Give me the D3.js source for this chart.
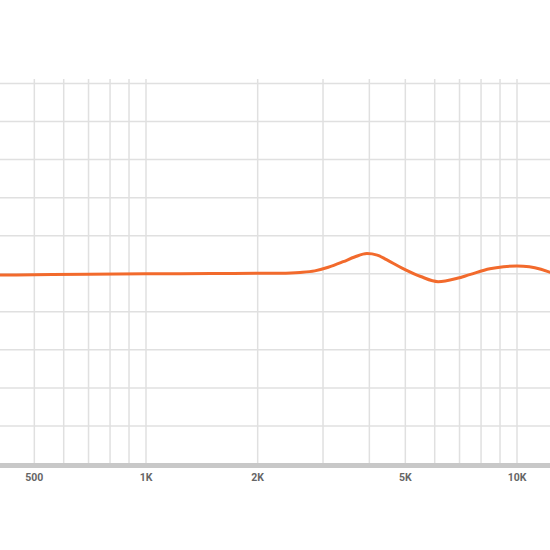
<!DOCTYPE html>
<html>
<head>
<meta charset="utf-8">
<script src="https://cdn.jsdelivr.net/npm/d3@7"></script>
<style>
  html, body { margin: 0; padding: 0; background: #fff; }
  svg { display: block; }
</style>
</head>
<body>
<svg id="chart" width="550" height="550"></svg>
<script>
// Data
const freqs = [400, 500, 700, 1000, 1500, 2000, 2300, 2600, 2850, 3100, 3400, 3650, 3940, 4200, 4450, 4900, 5500, 6130, 6900, 7450, 8450, 9200, 10000, 10800, 11600, 12300];
const dB    = [-0.17, -0.13, -0.07, -0.01, 0.03, 0.06, 0.08, 0.18, 0.38, 0.85, 1.58, 2.2, 2.65, 2.45, 1.85, 0.75, -0.36, -1.04, -0.6, -0.12, 0.66, 0.92, 1.02, 0.92, 0.6, 0.18];
const freqGrid = [500, 600, 700, 800, 900, 1000, 2000, 3000, 4000, 5000, 6000, 7000, 8000, 9000, 10000];
const freqLabels = [500, 1000, 2000, 5000, 10000];
const freqLabelText = ["500", "1K", "2K", "5K", "10K"];
const dbGrid = [-20, -15, -10, -5, 0, 5, 10, 15, 20, 25];

const svg = d3.select("#chart");
const x = d3.scaleLog().domain([1000, 10000]).range([146, 517]);
const y = d3.scaleLinear().domain([-25, 25]).range([464, 83.5]);

// horizontal grid
svg.append("g").selectAll("line").data(dbGrid).join("line")
  .attr("x1", 0).attr("x2", 550)
  .attr("y1", d => y(d)).attr("y2", d => y(d))
  .attr("stroke", "#e0e0e0").attr("stroke-width", 1.5);

// vertical grid
svg.append("g").selectAll("line").data(freqGrid).join("line")
  .attr("x1", d => x(d)).attr("x2", d => x(d))
  .attr("y1", y(25) - 4.5).attr("y2", y(-25))
  .attr("stroke", "#e0e0e0").attr("stroke-width", 1.5);

// axis bar
svg.append("rect").attr("x", 0).attr("width", 550)
  .attr("y", y(-25) - 1).attr("height", 5).attr("fill", "#c8c8c8");

// labels
svg.append("g").selectAll("text").data(freqLabels).join("text")
  .attr("x", d => x(d)).attr("y", y(-25) + 17)
  .attr("text-anchor", "middle")
  .attr("font-family", "Roboto, 'DejaVu Sans', sans-serif")
  .attr("font-weight", "bold").attr("font-size", 10.5)
  .attr("fill", "#666")
  .text((d, i) => freqLabelText[i]);

// curve
const line = d3.line()
  .x((d, i) => x(freqs[i]))
  .y(d => y(d))
  .curve(d3.curveMonotoneX);
svg.append("path").datum(dB)
  .attr("d", line)
  .attr("fill", "none")
  .attr("stroke", "#f26a2c")
  .attr("stroke-width", 3)
  .attr("stroke-linecap", "round");
</script>
</body>
</html>
